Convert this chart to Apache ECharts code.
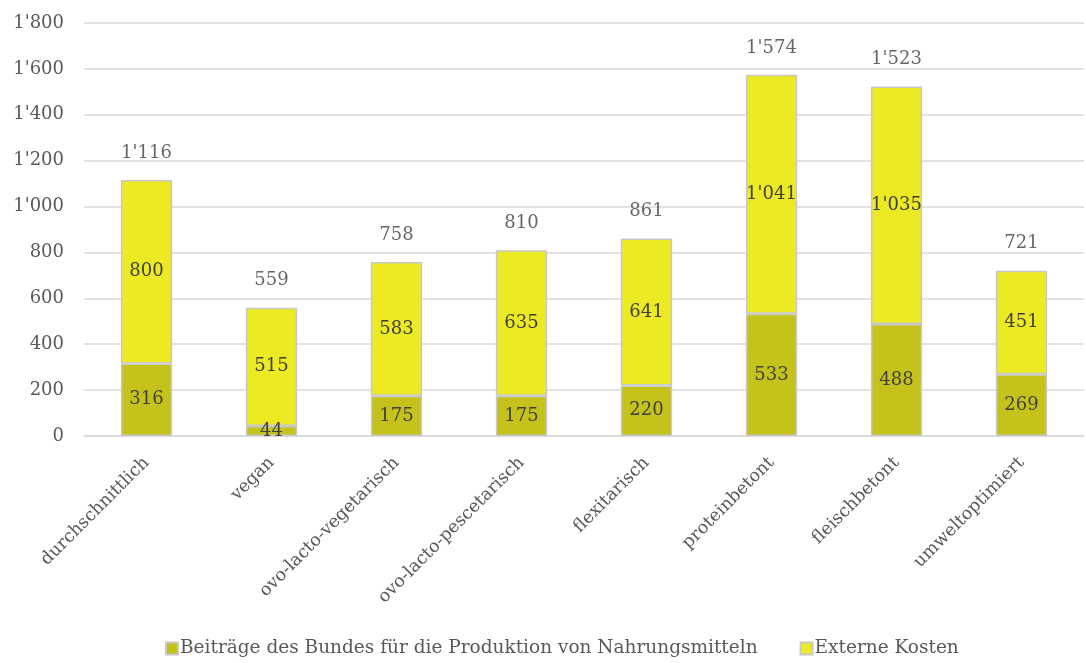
<!DOCTYPE html>
<html>
<head>
<meta charset="utf-8">
<script src="https://cdn.jsdelivr.net/npm/echarts@6/dist/echarts.min.js"></script>
<style>
  html, body { margin: 0; padding: 0; background: #ffffff; }
  #chart { width: 1086px; height: 663px; }
</style>
</head>
<body>
<div id="chart"></div>
<script>
// Diet scenarios
const categories = ['durchschnittlich', 'vegan', 'ovo-lacto-vegetarisch', 'ovo-lacto-pescetarisch',
  'flexitarisch', 'proteinbetont', 'fleischbetont', 'umweltoptimiert'];
// Federal contributions for food production
const beitraege = [316, 44, 175, 175, 220, 533, 488, 269];
// External costs
const externeKosten = [800, 515, 583, 635, 641, 1041, 1035, 451];
// Stated totals per scenario
const totals = [1116, 559, 758, 810, 861, 1574, 1523, 721];
const seriesNames = ['Beiträge des Bundes für die Produktion von Nahrungsmitteln', 'Externe Kosten'];

const FONT = 'DejaVu Serif';
const fmt = v => String(v).replace(/\B(?=(\d{3})+(?!\d))/g, "'");

const chart = echarts.init(document.getElementById('chart'), null, { renderer: 'canvas' });

const barLabel = {
  show: true,
  position: 'inside',
  fontFamily: FONT,
  fontSize: 18,
  color: '#404040',
  formatter: p => fmt(p.value)
};

chart.setOption({
  animation: false,
  backgroundColor: '#ffffff',
  grid: { left: 84, right: 2, top: 23, bottom: 227, containLabel: false },
  legend: {
    bottom: 0,
    left: 160,
    itemWidth: 12,
    itemHeight: 12,
    itemGap: 42,
    icon: 'rect',
    textStyle: { fontFamily: FONT, fontSize: 18.5, color: '#595959', padding: [0, 0, 0, -3] },
    data: seriesNames
  },
  xAxis: {
    type: 'category',
    data: categories,
    axisLine: { lineStyle: { color: '#d9d9d9', width: 1.5 } },
    axisTick: { show: false },
    axisLabel: {
      rotate: 45,
      interval: 0,
      margin: 24,
      fontFamily: FONT,
      fontSize: 17.5,
      color: '#595959'
    }
  },
  yAxis: {
    type: 'value',
    min: 0,
    max: 1800,
    interval: 200,
    axisLine: { show: false },
    axisTick: { show: false },
    splitLine: { lineStyle: { color: '#d9d9d9', width: 1.5 } },
    axisLabel: {
      margin: 20,
      fontFamily: FONT,
      fontSize: 18,
      color: '#595959',
      formatter: v => fmt(v)
    }
  },
  series: [
    {
      name: seriesNames[0],
      type: 'bar',
      stack: 'total',
      barWidth: '41%',
      data: beitraege,
      itemStyle: { color: '#c5c21c', borderColor: '#c8c8c8', borderWidth: 1.5 },
      label: barLabel
    },
    {
      name: seriesNames[1],
      type: 'bar',
      stack: 'total',
      barWidth: '41%',
      data: externeKosten,
      itemStyle: { color: '#ecea23', borderColor: '#c8c8c8', borderWidth: 1.5 },
      label: barLabel
    },
    {
      name: 'Total',
      type: 'scatter',
      data: totals,
      symbolSize: 0,
      silent: true,
      label: {
        show: true,
        position: 'top',
        distance: 18,
        fontFamily: FONT,
        fontSize: 18,
        color: '#404040',
        formatter: p => fmt(p.value)
      }
    }
  ]
});
</script>
</body>
</html>
